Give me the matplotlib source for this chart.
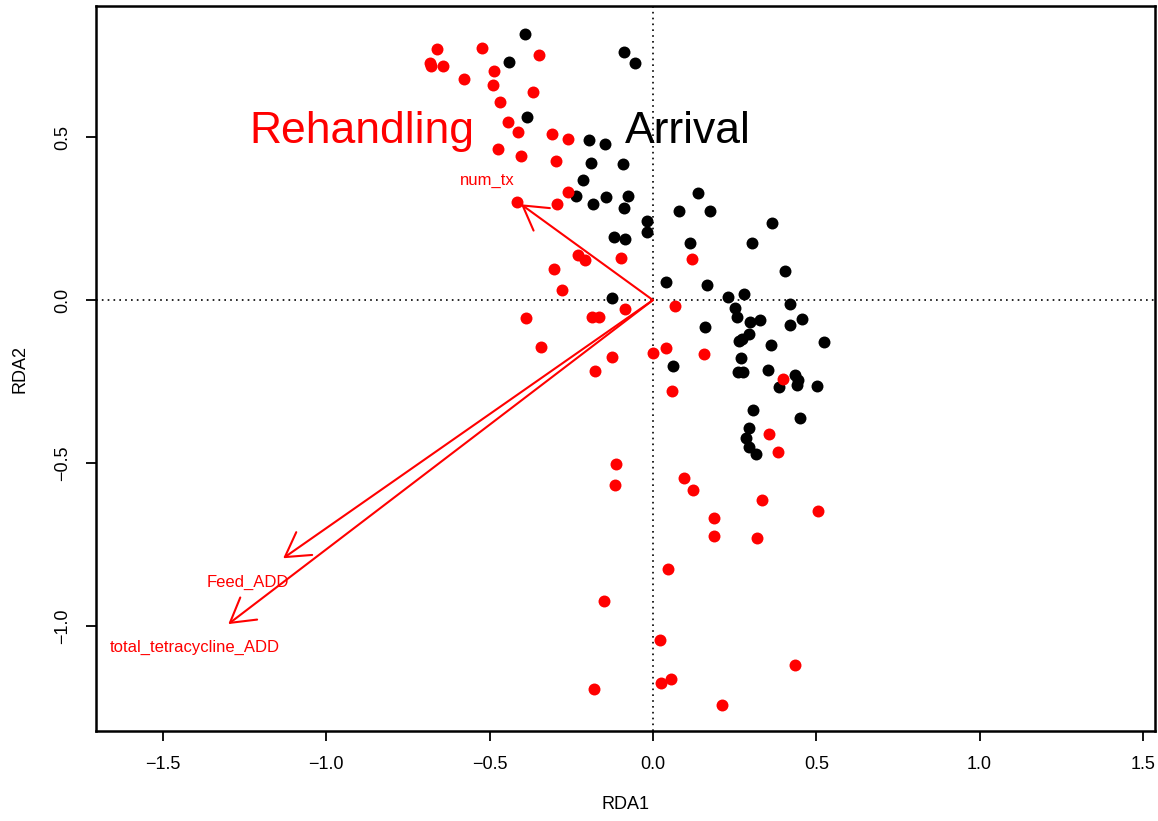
import matplotlib
matplotlib.use("Agg")
import matplotlib.pyplot as plt
from matplotlib.patches import FancyArrowPatch, ArrowStyle

plt.rcParams["font.family"] = ["Liberation Sans", "DejaVu Sans"]

# site scores, Arrival samples (black)
arrival_x = [-0.392, -0.440, -0.090, -0.054, -0.385, -0.195, -0.146, -0.190, -0.093, -0.213,
             -0.234, -0.144, -0.077, 0.139, -0.183, -0.090, 0.081, 0.175, -0.019, -0.017,
             -0.119, -0.084, 0.112, 0.365, 0.302, 0.405, 0.039, 0.166, 0.229, 0.279,
             -0.126, 0.251, 0.419, 0.258, 0.297, 0.328, 0.419, 0.455, 0.159, 0.294,
             0.264, 0.272, 0.360, 0.523, 0.060, 0.269, 0.261, 0.275, 0.351, 0.435,
             0.443, 0.440, 0.386, 0.503, 0.305, 0.450, 0.295, 0.286, 0.293, 0.315]
arrival_y = [0.816, 0.731, 0.762, 0.728, 0.562, 0.491, 0.479, 0.422, 0.417, 0.368,
             0.320, 0.317, 0.320, 0.330, 0.294, 0.284, 0.273, 0.272, 0.242, 0.210,
             0.195, 0.187, 0.174, 0.236, 0.174, 0.088, 0.057, 0.045, 0.009, 0.019,
             0.005, -0.024, -0.013, -0.052, -0.067, -0.062, -0.075, -0.058, -0.082, -0.104,
             -0.125, -0.120, -0.139, -0.130, -0.201, -0.179, -0.221, -0.222, -0.215, -0.230,
             -0.245, -0.261, -0.266, -0.264, -0.336, -0.363, -0.392, -0.422, -0.452, -0.471]

# site scores, Rehandling samples (red)
rehandling_x = [-0.660, -0.523, -0.349, -0.683, -0.680, -0.642, -0.487, -0.579, -0.491, -0.366,
                -0.468, -0.445, -0.412, -0.310, -0.259, -0.474, -0.405, -0.296, -0.259, -0.417,
                -0.294, -0.229, -0.208, -0.099, 0.120, -0.302, -0.279, -0.087, 0.069, -0.390,
                -0.186, -0.165, -0.343, -0.126, -0.001, 0.041, 0.156, -0.178, 0.057, 0.399,
                0.356, 0.382, -0.113, -0.115, 0.095, 0.122, 0.333, 0.504, 0.187, 0.186,
                0.320, 0.045, -0.151, 0.021, 0.435, 0.054, 0.025, -0.181, 0.210]
rehandling_y = [0.770, 0.774, 0.752, 0.728, 0.718, 0.719, 0.702, 0.679, 0.659, 0.637,
                0.607, 0.547, 0.516, 0.509, 0.493, 0.464, 0.441, 0.427, 0.332, 0.300,
                0.294, 0.138, 0.122, 0.130, 0.125, 0.096, 0.030, -0.027, -0.018, -0.054,
                -0.051, -0.053, -0.143, -0.174, -0.163, -0.146, -0.165, -0.219, -0.279, -0.243,
                -0.412, -0.466, -0.502, -0.568, -0.547, -0.584, -0.613, -0.646, -0.668, -0.723,
                -0.730, -0.824, -0.922, -1.044, -1.120, -1.162, -1.174, -1.194, -1.242]

# biplot arrows for explanatory variables
env_names = ["num_tx", "Feed_ADD", "total_tetracycline_ADD"]
env_x = [-0.404, -1.132, -1.300]
env_y = [0.294, -0.792, -0.994]
env_label_x = [-0.508, -1.240, -1.402]
env_label_y = [0.368, -0.865, -1.067]

x_ticks = [-1.5, -1.0, -0.5, 0.0, 0.5, 1.0, 1.5]
y_ticks = [-1.0, -0.5, 0.0, 0.5]

red = "#ff0000"

fig = plt.figure(figsize=(11.58, 8.21), dpi=100)
ax = fig.add_axes([0.0829, 0.1096, 0.9145, 0.883])

ax.axhline(0, color="black", linestyle=(0, (1, 2.5)), linewidth=1.2, zorder=1)
ax.axvline(0, color="black", linestyle=(0, (1, 2.5)), linewidth=1.2, zorder=1)

ax.scatter(arrival_x, arrival_y, s=74, color="black", linewidths=0, zorder=3)
ax.scatter(rehandling_x, rehandling_y, s=74, color=red, linewidths=0, zorder=3)

head = ArrowStyle("->", head_length=17, head_width=10)
for name, x, y, lx, ly in zip(env_names, env_x, env_y, env_label_x, env_label_y):
    arr = FancyArrowPatch((0, 0), (x, y), arrowstyle=head, mutation_scale=1,
                          shrinkA=0, shrinkB=0, color=red, linewidth=1.5, zorder=4)
    ax.add_patch(arr)
    ax.text(lx, ly, name, color=red, fontsize=12, ha="center", va="center", zorder=5)

ax.text(-0.891, 0.482, "Rehandling", color=red, fontsize=32, ha="center", va="baseline")
ax.text(0.107, 0.482, "Arrival", color="black", fontsize=32, ha="center", va="baseline")

ax.set_xlim(-1.705, 1.537)
ax.set_ylim(-1.322, 0.902)
ax.set_xticks(x_ticks)
ax.set_xticklabels([f"{t:.1f}".replace("-", "\u2212") for t in x_ticks])
ax.set_yticks(y_ticks)
ax.set_yticklabels([f"{t:.1f}".replace("-", "\u2212") for t in y_ticks],
                   rotation=90, va="center")
ax.tick_params(direction="out", length=7, width=1.3, labelsize=13, pad=11)

for sp in ax.spines.values():
    sp.set_linewidth(1.8)

ax.set_xlabel("RDA1", fontsize=13, va="center")
ax.xaxis.set_label_coords(0.5, -0.102)
ax.set_ylabel("RDA2", fontsize=13, va="center")
ax.yaxis.set_label_coords(-0.072, 0.5)

fig.savefig("out.png", dpi=100)
